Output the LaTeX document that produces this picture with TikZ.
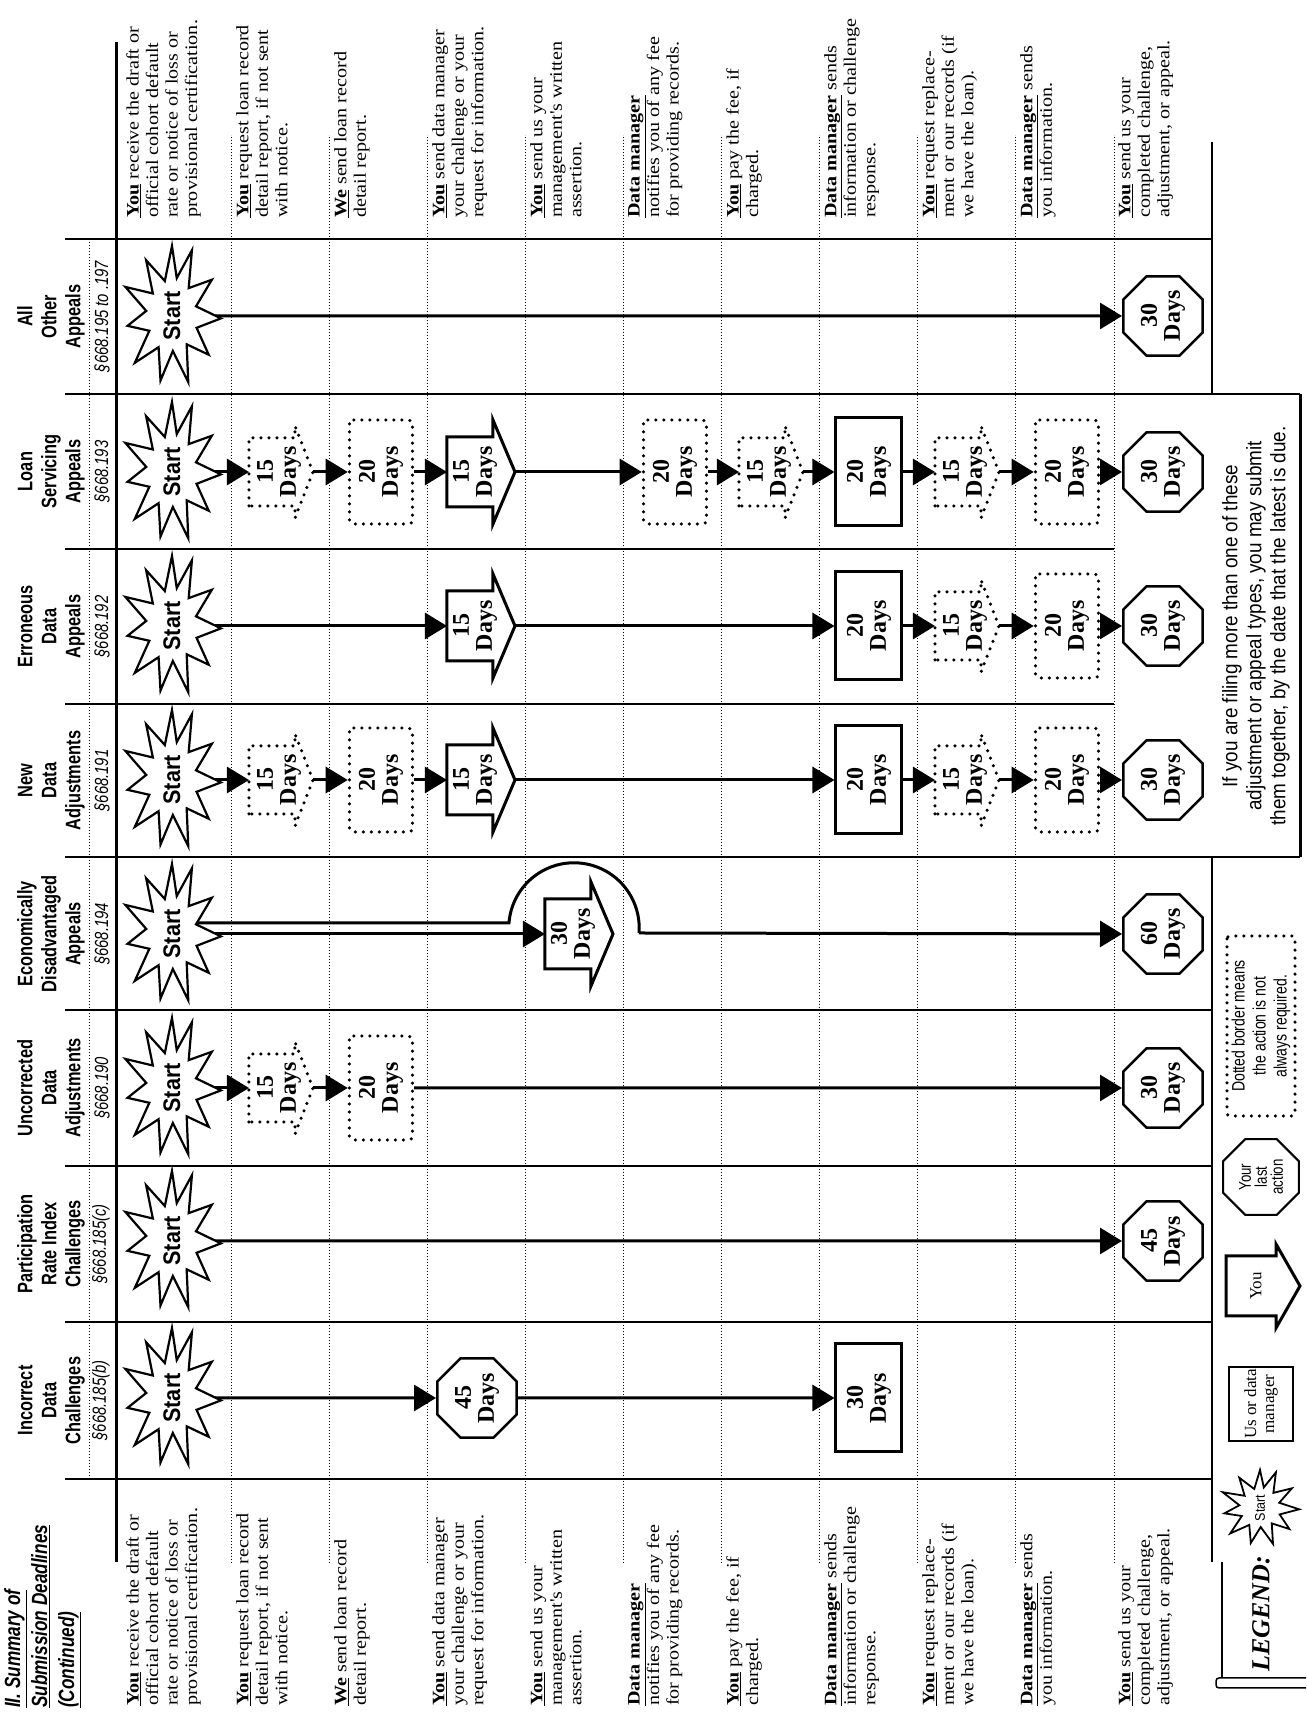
\documentclass[tikz,border=0pt]{standalone}
\usepackage{fontspec}
\setmainfont{Liberation Serif}
\newfontfamily\hdrfont[FakeStretch=0.78]{Liberation Sans}
\newfontfamily\notefont[FakeStretch=0.9]{Liberation Sans}
\newfontfamily\stfont[FakeStretch=0.9]{Liberation Sans}
\newfontfamily\dscfont[FakeStretch=1.15]{Liberation Serif}
\usetikzlibrary{shapes.geometric,arrows.meta}
\newcommand\ul[1]{\textbf{\underline{#1}}}
\tikzset{
 gridsep/.style={line width=1.6pt},
 rowsep/.style={line width=1pt, dash pattern=on 1pt off 2pt},
 flow/.style={line width=3pt, -{Triangle[length=22pt,width=26pt]}},
 flowline/.style={line width=3pt},
 solidbox/.style={line width=3pt, line join=miter},
 dotbox/.style={line width=3.5pt, line cap=round, dash pattern=on 0pt off 8pt},
 boxtxt/.style={font=\bfseries\fontsize{24}{23}\selectfont, align=center, inner sep=0pt},
 srect/.style={draw, solidbox, boxtxt, minimum width=108pt, minimum height=66pt},
 drect/.style={draw, dotbox, boxtxt, rounded corners=4pt, minimum width=104pt, minimum height=63pt},
 oct/.style={draw, regular polygon, regular polygon sides=8, minimum size=86pt, line width=2.5pt, boxtxt},
 burstst/.style={line width=2.2pt, fill=white, line join=miter},
 starttxt/.style={font=\stfont\bfseries\fontsize{24}{24}\selectfont, inner sep=0pt},
 desctxt/.style={font=\dscfont\fontsize{17.5}{19.5}\selectfont, align=left, inner sep=0pt, anchor=north west},
 hdr/.style={font=\hdrfont\bfseries\fontsize{21}{24}\selectfont, align=center, inner sep=0pt, anchor=south},
 sec/.style={font=\hdrfont\itshape\fontsize{19}{22}\selectfont, inner sep=0pt, anchor=south},
}
\newcommand\burstpath{(0:1) -- (16:0.52) -- (33:0.95) -- (50:0.5) -- (66:1.02) -- (82:0.52) -- (99:0.9) -- (115:0.5) -- (132:1) -- (149:0.52) -- (166:0.95) -- (182:0.5) -- (199:1) -- (216:0.5) -- (233:0.92) -- (251:0.52) -- (268:0.98) -- (286:0.5) -- (303:0.95) -- (320:0.52) -- (337:1.02) -- (350:0.55) -- cycle}
\newcommand\burst[3]{%
 \begin{scope}[shift={(#2,#3)}, xscale=70, yscale=50]\draw[burstst] \burstpath;\end{scope}
 \node[starttxt] (#1) at (#2,#3) {Start};}
\newcommand\spent[4]{%
 \draw[solidbox] (#2-35,#3+30) -- (#2+35,#3+30) -- (#2+35,#3-16) -- (#2+52,#3-16) -- (#2,#3-38) -- (#2-52,#3-16) -- (#2-35,#3-16) -- cycle;
 \node[boxtxt] (#1) at (#2,#3+2) {#4\\Days};
 \coordinate (#1-in) at (#2,#3+30);
 \coordinate (#1-out) at (#2,#3-38);}
\newcommand\dpent[3]{%
 \draw[dotbox] (#2-34,#3+32) -- (#2+34,#3+32) -- (#2+34,#3-14) -- (#2+46,#3-14) -- (#2,#3-32) -- (#2-46,#3-14) -- (#2-34,#3-14) -- cycle;
 \node[boxtxt] (#1) at (#2,#3+2) {15\\Days};
 \coordinate (#1-in) at (#2,#3+32);
 \coordinate (#1-out) at (#2,#3-32);}
\begin{document}
\begin{tikzpicture}[x=1pt,y=1pt,rotate=90,transform shape]
\useasboundingbox (0,0) rectangle (1712,1306);
% ---------- grid ----------
\foreach \yy in {1074,976,878,780,682,584,486,388,290,192} \draw[rowsep] (149,\yy) -- (1577,\yy);
\draw[line width=3pt] (150,1189) -- (1670,1189);
\foreach \xx in {233,390,546,702,1473} \draw[gridsep] (\xx,94) -- (\xx,1241);
\foreach \xx in {1008,1163} \draw[gridsep] (\xx,192) -- (\xx,1241);
\foreach \xx in {855,1318} \draw[gridsep] (\xx,6) -- (\xx,1241);
\draw[rowsep] (233,1216) -- (1473,1216);
\draw[line width=2.5pt] (150,94) -- (855,94);
\draw[line width=2.5pt] (1318,94) -- (1570,94);
% ---------- title and headers ----------
\node[font=\hdrfont\bfseries\itshape\fontsize{22}{27}\selectfont, align=left, inner sep=0pt, anchor=north west] (ttl) at (4,1302) {\underline{II. Summary of}\\\underline{Submission Deadlines}\\\underline{(Continued)}};
\node[hdr] (hI) at (311.5,1221) {Incorrect\\Data\\Challenges};
\node[sec] (sI) at (311.5,1196) {§668.185(b)};
\node[hdr] (hP) at (468,1221) {Participation\\Rate Index\\Challenges};
\node[sec] (sP) at (468,1196) {§668.185(c)};
\node[hdr] (hU) at (624,1221) {Uncorrected\\Data\\Adjustments};
\node[sec] (sU) at (624,1196) {§668.190};
\node[hdr] (hE) at (778,1221) {Economically\\Disadvantaged\\Appeals};
\node[sec] (sE) at (778,1196) {§668.194};
\node[hdr] (hN) at (931.5,1221) {New\\Data\\Adjustments};
\node[sec] (sN) at (931.5,1196) {§668.191};
\node[hdr] (hR) at (1085.5,1221) {Erroneous\\Data\\Appeals};
\node[sec] (sR) at (1085.5,1196) {§668.192};
\node[hdr] (hL) at (1240.5,1221) {Loan\\Servicing\\Appeals};
\node[sec] (sL) at (1240.5,1196) {§668.193};
\node[hdr] (hA) at (1395.5,1221) {All\\Other\\Appeals};
\node[sec] (sA) at (1395.5,1196) {§668.195 \textit{to} .197};
% ---------- step descriptions (both sides) ----------
\foreach \xx/\sd in {6/l,1494/r}{
\node[desctxt] (d1\sd) at (\xx,1180) {\ul{You} receive the draft or\\official cohort default\\rate or notice of loss or\\provisional certification.};
\node[desctxt] (d2\sd) at (\xx,1070) {\ul{You} request loan record\\detail report, if not sent\\with notice.};
\node[desctxt] (d3\sd) at (\xx,972) {\ul{We} send loan record\\detail report.};
\node[desctxt] (d4\sd) at (\xx,874) {\ul{You} send data manager\\your challenge or your\\request for information.};
\node[desctxt] (d5\sd) at (\xx,776) {\ul{You} send us your\\management's written\\assertion.};
\node[desctxt] (d6\sd) at (\xx,678) {\ul{Data manager}\\notifies you of any fee\\for providing records.};
\node[desctxt] (d7\sd) at (\xx,580) {\ul{You} pay the fee, if\\charged.};
\node[desctxt] (d8\sd) at (\xx,482) {\ul{Data manager} sends\\information or challenge\\response.};
\node[desctxt] (d9\sd) at (\xx,384) {\ul{You} request replace-\\ment or our records (if\\we have the loan).};
\node[desctxt] (d10\sd) at (\xx,286) {\ul{Data manager} sends\\you information.};
\node[desctxt] (d11\sd) at (\xx,188) {\ul{You} send us your\\completed challenge,\\adjustment, or appeal.};
}
% ---------- start points ----------
\coordinate (bI) at (314,1134);
\coordinate (bP) at (471,1134);
\coordinate (bU) at (624,1134);
\coordinate (bE) at (778,1134);
\coordinate (bE2) at (789,1134);
\coordinate (bN) at (932,1134);
\coordinate (bR) at (1086,1134);
\coordinate (bL) at (1240,1134);
\coordinate (bA) at (1396,1134);
% ---------- boxes ----------
\node[oct] (oI4) at (314,829) {45\\Days};
\node[srect] (RI8) at (314,437) {30\\Days};
\node[oct] (oP11) at (471,143) {45\\Days};
\dpent{pU2}{624}{1025}
\node[drect] (rU3) at (624,925) {20\\Days};
\node[oct] (oU11) at (624,143) {30\\Days};
\spent{pE5}{778}{731}{30}
\node[oct] (oE11) at (778,143) {60\\Days};
\dpent{pN2}{932}{1025}
\node[drect] (rN3) at (932,925) {20\\Days};
\spent{pN4}{932}{829}{15}
\node[srect] (RN8) at (932,437) {20\\Days};
\dpent{pN9}{932}{339}
\node[drect] (rN10) at (932,239) {20\\Days};
\node[oct] (oN11) at (932,143) {30\\Days};
\spent{pR4}{1086}{829}{15}
\node[srect] (RR8) at (1086,437) {20\\Days};
\dpent{pR9}{1086}{339}
\node[drect] (rR10) at (1086,239) {20\\Days};
\node[oct] (oR11) at (1086,143) {30\\Days};
\dpent{pL2}{1240}{1025}
\node[drect] (rL3) at (1240,925) {20\\Days};
\spent{pL4}{1240}{829}{15}
\node[drect] (rL6) at (1240,631) {20\\Days};
\dpent{pL7}{1240}{535}
\node[srect] (RL8) at (1240,437) {20\\Days};
\dpent{pL9}{1240}{339}
\node[drect] (rL10) at (1240,239) {20\\Days};
\node[oct] (oL11) at (1240,143) {30\\Days};
\node[oct] (oA11) at (1396,143) {30\\Days};
% ---------- connectors ----------
\draw[flow] (bI) -- (oI4.north);
\draw[flow] (oI4.south) -- (RI8.north);
\draw[flow] (bP) -- (oP11.north);
\draw[flow] (bU) -- (pU2-in);
\draw[flow] (pU2-out) -- (rU3.north);
\draw[flow] (rU3.south) -- (oU11.north);
\draw[flow] (bE) -- (pE5-in);
\coordinate (eA) at (789,797);
\coordinate (eB) at (779,667);
\draw[flowline] (bE2) -- (eA) arc[start angle=85.6, end angle=-94.4, radius=65.2];
\draw[flow] (eB) -- (oE11.north);
\draw[flow] (bN) -- (pN2-in);
\draw[flow] (pN2-out) -- (rN3.north);
\draw[flow] (rN3.south) -- (pN4-in);
\draw[flow] (pN4-out) -- (RN8.north);
\draw[flow] (RN8.south) -- (pN9-in);
\draw[flow] (pN9-out) -- (rN10.north);
\draw[flow] (rN10.south) -- (oN11.north);
\draw[flow] (bR) -- (pR4-in);
\draw[flow] (pR4-out) -- (RR8.north);
\draw[flow] (RR8.south) -- (pR9-in);
\draw[flow] (pR9-out) -- (rR10.north);
\draw[flow] (rR10.south) -- (oR11.north);
\draw[flow] (bL) -- (pL2-in);
\draw[flow] (pL2-out) -- (rL3.north);
\draw[flow] (rL3.south) -- (pL4-in);
\draw[flow] (pL4-out) -- (rL6.north);
\draw[flow] (rL6.south) -- (pL7-in);
\draw[flow] (pL7-out) -- (RL8.north);
\draw[flow] (RL8.south) -- (pL9-in);
\draw[flow] (pL9-out) -- (rL10.north);
\draw[flow] (rL10.south) -- (oL11.north);
\draw[flow] (bA) -- (oA11.north);
% ---------- start bursts ----------
\burst{tI}{314}{1134}
\burst{tP}{471}{1134}
\burst{tU}{624}{1134}
\burst{tE}{778}{1134}
\burst{tN}{932}{1134}
\burst{tR}{1086}{1134}
\burst{tL}{1240}{1134}
\burst{tA}{1396}{1134}
% ---------- note box ----------
\draw[line width=3pt] (855,6) -- (1318,6);
\node[font=\notefont\fontsize{21}{24}\selectfont, align=center, inner sep=0pt] (note) at (1086,50) {If you are filing more than one of these\\adjustment or appeal types, you may submit\\them together, by the date that the latest is due.};
% ---------- legend ----------
\draw[line width=1.5pt] (34,84) -- (150,84);
\draw[line width=1.5pt, rounded corners=3pt] (24,0) -- (24,90) -- (34,90) -- (34,0);
\node[font=\bfseries\itshape\fontsize{26}{28}\selectfont, anchor=west, inner sep=0pt] (lg) at (40,45) {LEGEND:};
\begin{scope}[shift={(204,46)}, xscale=38, yscale=40]\draw[line width=1.8pt, fill=white] \burstpath;\end{scope}
\node[font=\stfont\fontsize{14}{14}\selectfont, inner sep=0pt] (lgS) at (204,46) {Start};
\node[draw, line width=2.5pt, minimum width=74pt, minimum height=64pt, align=center, inner sep=0pt, font=\fontsize{17}{18}\selectfont] (lgU) at (308,45) {Us or data\\manager};
\draw[solidbox] (396,80) -- (456,80) -- (456,30) -- (468,30) -- (426,6) -- (384,30) -- (396,30) -- cycle;
\node[font=\fontsize{17}{18}\selectfont, inner sep=0pt] (lgY) at (426,50) {You};
\node[draw, regular polygon, regular polygon sides=8, minimum size=82pt, line width=2.2pt, align=center, inner sep=0pt, font=\hdrfont\fontsize{17}{16}\selectfont] (lgO) at (535,45) {Your\\last\\action};
\node[draw, dotbox, rounded corners=3pt, minimum width=180pt, minimum height=68pt, align=center, inner sep=0pt, font=\hdrfont\fontsize{18}{21}\selectfont] (lgD) at (686,45) {Dotted border means\\the action is not\\always required.};
\end{tikzpicture}
\end{document}
